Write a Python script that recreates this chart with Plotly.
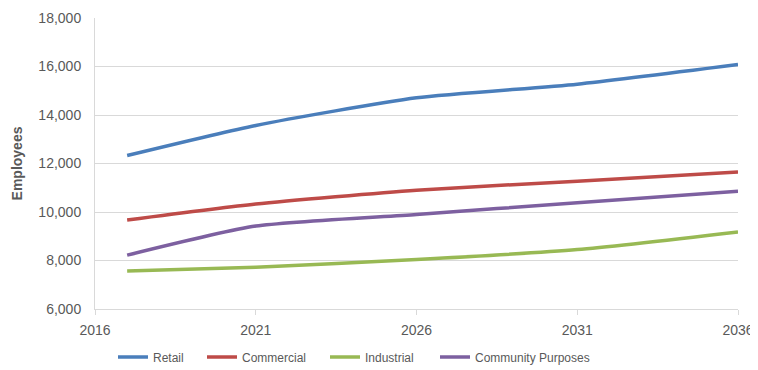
import plotly.graph_objects as go

years = [2017, 2021, 2026, 2031, 2036]
retail = [12330, 13570, 14710, 15270, 16080]
commercial = [9670, 10330, 10900, 11270, 11650]
industrial = [7570, 7720, 8040, 8450, 9180]
community = [8220, 9420, 9900, 10380, 10860]

series = [
    ("Retail", retail, "#4A7EBB", "legend"),
    ("Commercial", commercial, "#BE4B48", "legend2"),
    ("Industrial", industrial, "#98B954", "legend3"),
    ("Community Purposes", community, "#7D60A0", "legend4"),
]

x_ticks = [2016, 2021, 2026, 2031, 2036]
y_ticks = [6000, 8000, 10000, 12000, 14000, 16000, 18000]

W, H = 750, 362  # page body has an 8px margin

fig = go.Figure()
for name, vals, color, lg in series:
    fig.add_trace(go.Scatter(
        x=years, y=vals, name=name, mode="lines", legend=lg,
        line=dict(color=color, width=3.5, shape="spline", smoothing=0.6),
    ))

font_family = "Liberation Sans, Arial, sans-serif"

def legend_at(px):
    return dict(orientation="h", x=px / W, xanchor="left", xref="container",
                y=1 - 349 / H, yanchor="middle", yref="container",
                font=dict(size=12, color="#595959"), bgcolor="rgba(0,0,0,0)")

fig.update_layout(
    width=W, height=H,
    margin=dict(l=87, r=20, t=10, b=61),
    paper_bgcolor="white", plot_bgcolor="white",
    font=dict(family=font_family, size=14, color="#595959"),
    showlegend=True,
    legend=legend_at(105),
    legend2=legend_at(194),
    legend3=legend_at(317),
    legend4=legend_at(427),
    xaxis=dict(range=[2016, 2036], tickmode="array", tickvals=x_ticks,
               ticktext=[str(t) for t in x_ticks], automargin=False,
               showgrid=False, showline=True, linecolor="#D9D9D9", linewidth=1,
               ticks="outside", ticklen=5, tickcolor="#D9D9D9", zeroline=False,
               ticklabelstandoff=3, ticklabeloverflow="allow", tickfont=dict(size=14)),
    yaxis=dict(range=[6000, 18000], tickmode="array", tickvals=y_ticks,
               ticktext=[f"{v:,}" for v in y_ticks], automargin=False,
               showgrid=True, gridcolor="#D9D9D9", gridwidth=1,
               showline=True, linecolor="#D9D9D9", zeroline=False,
               ticks="outside", ticklen=10, tickcolor="white",
               tickfont=dict(size=14),
               title=dict(text="<b>Employees</b>", font=dict(size=14, color="#595959"),
                          standoff=12)),
)

fig.write_html("out.html")
